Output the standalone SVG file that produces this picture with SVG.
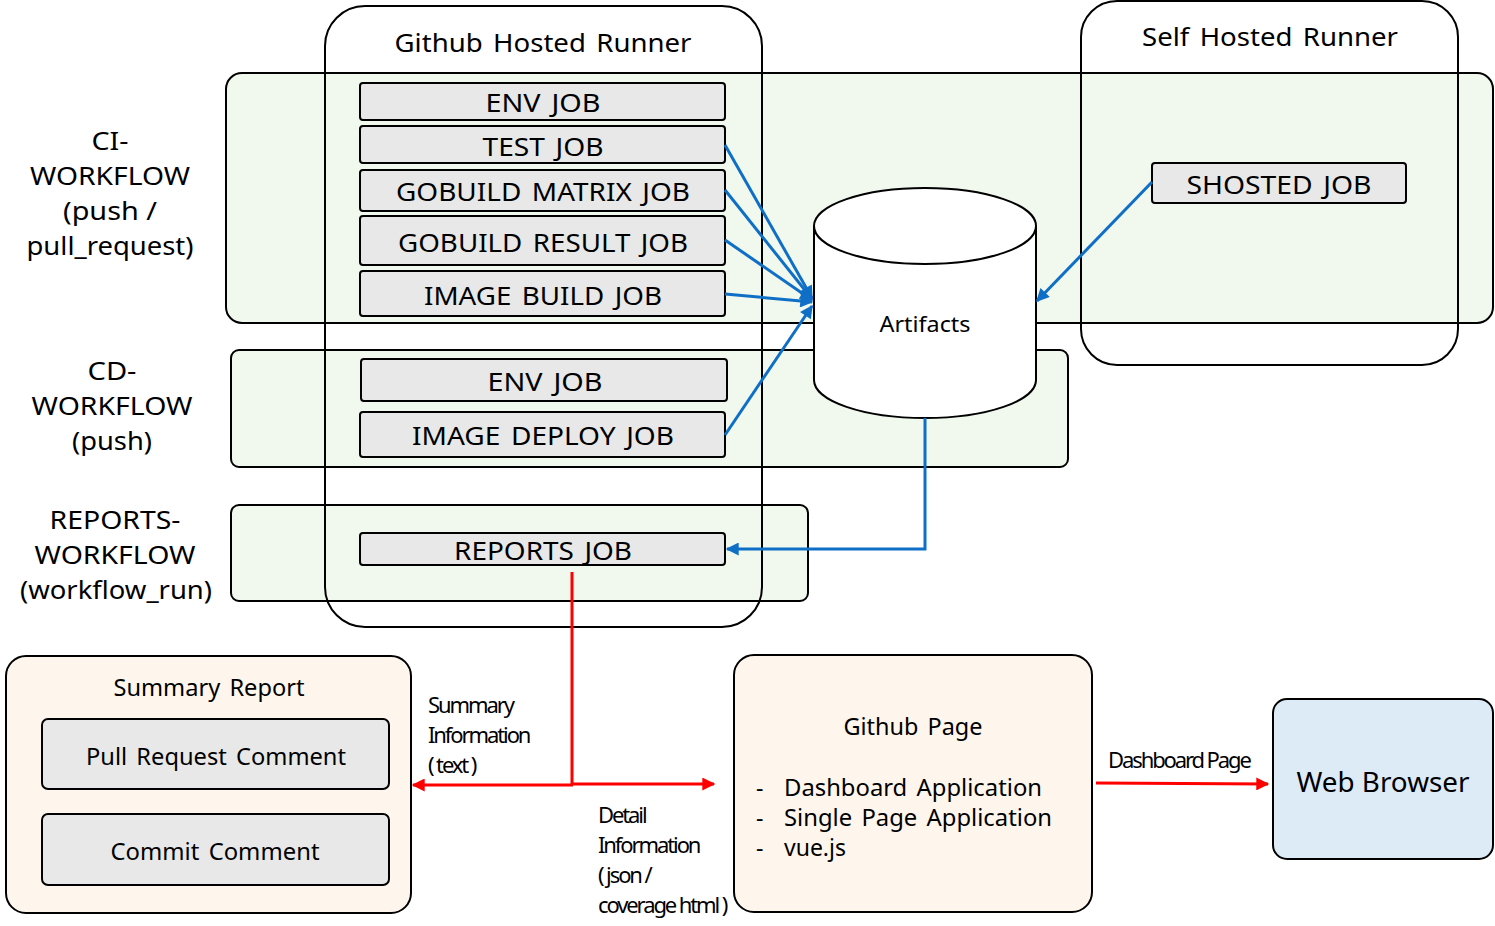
<svg xmlns="http://www.w3.org/2000/svg" width="1495" height="926" viewBox="0 0 1495 926">
<defs>
<style>
text{font-family:"Noto Sans","Open Sans","Liberation Sans",sans-serif;fill:#000;}
.panel{fill:#F1F8EE;stroke:#000;stroke-width:2;}
.runner{fill:none;stroke:#000;stroke-width:2;}
.job{fill:#E8E8E8;stroke:#000;stroke-width:2;}
.peach{fill:#FEF6EC;stroke:#000;stroke-width:2;}
.jt{font-size:26px;text-anchor:middle;dominant-baseline:central;word-spacing:3px;}
.wf{font-size:26px;text-anchor:middle;}
.mt{font-size:23px;text-anchor:middle;dominant-baseline:central;word-spacing:3px;}
.lt{font-size:23px;dominant-baseline:central;word-spacing:3px;}
.lbl{font-size:22px;letter-spacing:-2.1px;}
.blue{fill:none;stroke:#0F6FC6;stroke-width:3;}
.red{fill:none;stroke:#FF0000;stroke-width:3;}
</style>
<marker id="abl" viewBox="0 0 10 10" refX="9" refY="5" markerWidth="15" markerHeight="13" orient="auto" markerUnits="userSpaceOnUse">
<path d="M0,0 L10,5 L0,10 z" fill="#0F6FC6"/>
</marker>
<marker id="ar" viewBox="0 0 10 10" refX="9" refY="5" markerWidth="15" markerHeight="13" orient="auto" markerUnits="userSpaceOnUse">
<path d="M0,0 L10,5 L0,10 z" fill="#FF0000"/>
</marker>
</defs>
<rect width="1495" height="926" fill="#fff"/>

<g id="ci-workflow">
<rect class="panel" x="226" y="73" width="1267" height="250" rx="16"/>
<text class="wf" x="110" y="150" textLength="37" lengthAdjust="spacingAndGlyphs">CI-</text>
<text class="wf" x="110" y="185" textLength="160" lengthAdjust="spacingAndGlyphs">WORKFLOW</text>
<text class="wf" x="110" y="220" textLength="94" lengthAdjust="spacingAndGlyphs">(push /</text>
<text class="wf" x="110" y="255" textLength="167" lengthAdjust="spacingAndGlyphs">pull_request)</text>
</g>
<g id="cd-workflow">
<rect class="panel" x="231" y="350" width="837" height="117" rx="8"/>
<text class="wf" x="112" y="380" textLength="49" lengthAdjust="spacingAndGlyphs">CD-</text>
<text class="wf" x="112" y="415" textLength="161" lengthAdjust="spacingAndGlyphs">WORKFLOW</text>
<text class="wf" x="112" y="450" textLength="80" lengthAdjust="spacingAndGlyphs">(push)</text>
</g>
<g id="reports-workflow">
<rect class="panel" x="231" y="505" width="577" height="96" rx="8"/>
<text class="wf" x="115" y="529" textLength="131" lengthAdjust="spacingAndGlyphs">REPORTS-</text>
<text class="wf" x="115" y="564" textLength="161" lengthAdjust="spacingAndGlyphs">WORKFLOW</text>
<text class="wf" x="116" y="599" textLength="192" lengthAdjust="spacingAndGlyphs">(workflow_run)</text>
</g>

<g id="github-hosted-runner">
<rect class="runner" x="325" y="6" width="437" height="621" rx="40"/>
<text class="jt" x="543" y="42" textLength="297" lengthAdjust="spacingAndGlyphs">Github Hosted Runner</text>
</g>
<g id="self-hosted-runner">
<rect class="runner" x="1081" y="1" width="377" height="364" rx="36"/>
<text class="jt" x="1270" y="36" textLength="256" lengthAdjust="spacingAndGlyphs">Self Hosted Runner</text>
</g>

<g id="ci-env-job"><rect class="job" x="360" y="83" width="365" height="37" rx="3"/><text class="jt" x="543" y="102" textLength="115" lengthAdjust="spacingAndGlyphs">ENV JOB</text></g>
<g id="test-job"><rect class="job" x="360" y="126" width="365" height="37" rx="3"/><text class="jt" x="543" y="146" textLength="121" lengthAdjust="spacingAndGlyphs">TEST JOB</text></g>
<g id="gobuild-matrix-job"><rect class="job" x="360" y="170" width="365" height="41" rx="3"/><text class="jt" x="543" y="191" textLength="294" lengthAdjust="spacingAndGlyphs">GOBUILD MATRIX JOB</text></g>
<g id="gobuild-result-job"><rect class="job" x="360" y="216" width="365" height="49" rx="3"/><text class="jt" x="543" y="242" textLength="290" lengthAdjust="spacingAndGlyphs">GOBUILD RESULT JOB</text></g>
<g id="image-build-job"><rect class="job" x="360" y="271" width="365" height="45" rx="3"/><text class="jt" x="543" y="295" textLength="238" lengthAdjust="spacingAndGlyphs">IMAGE BUILD JOB</text></g>
<g id="cd-env-job"><rect class="job" x="361" y="359" width="366" height="42" rx="3"/><text class="jt" x="545" y="381" textLength="115" lengthAdjust="spacingAndGlyphs">ENV JOB</text></g>
<g id="image-deploy-job"><rect class="job" x="360" y="412" width="365" height="45" rx="3"/><text class="jt" x="543" y="435" textLength="262" lengthAdjust="spacingAndGlyphs">IMAGE DEPLOY JOB</text></g>
<g id="reports-job"><rect class="job" x="360" y="533" width="365" height="32" rx="3"/><text class="jt" x="543" y="550" textLength="178" lengthAdjust="spacingAndGlyphs">REPORTS JOB</text></g>
<g id="shosted-job"><rect class="job" x="1152" y="163" width="254" height="40" rx="3"/><text class="jt" x="1279" y="184" textLength="185" lengthAdjust="spacingAndGlyphs">SHOSTED JOB</text></g>

<g id="artifacts">
<path d="M814,226 L814,380 A111,38 0 0 0 1036,380 L1036,226 A111,38 0 0 0 814,226 Z" fill="#fff" stroke="#000" stroke-width="2"/>
<path d="M814,226 A111,38 0 0 0 1036,226" fill="none" stroke="#000" stroke-width="2"/>
<text x="925" y="323" textLength="91" lengthAdjust="spacingAndGlyphs" style="font-size:22px;text-anchor:middle;dominant-baseline:central;">Artifacts</text>
</g>

<g id="summary-report">
<rect class="peach" x="6" y="656" width="405" height="257" rx="20"/>
<text class="mt" x="209" y="687" textLength="191" lengthAdjust="spacingAndGlyphs">Summary Report</text>
<rect class="job" x="42" y="719" width="347" height="70" rx="6"/>
<text class="mt" x="216" y="756" textLength="260" lengthAdjust="spacingAndGlyphs">Pull Request Comment</text>
<rect class="job" x="42" y="814" width="347" height="71" rx="6"/>
<text class="mt" x="215" y="851" textLength="209" lengthAdjust="spacingAndGlyphs">Commit Comment</text>
</g>

<g id="github-page">
<rect class="peach" x="734" y="655" width="358" height="257" rx="20"/>
<text class="mt" x="913" y="726" textLength="139" lengthAdjust="spacingAndGlyphs">Github Page</text>
<text class="lt" x="756" y="787">-</text><text class="lt" x="784" y="787" textLength="258" lengthAdjust="spacingAndGlyphs">Dashboard Application</text>
<text class="lt" x="756" y="817">-</text><text class="lt" x="784" y="817" textLength="268" lengthAdjust="spacingAndGlyphs">Single Page Application</text>
<text class="lt" x="756" y="847">-</text><text class="lt" x="784" y="847" textLength="62" lengthAdjust="spacingAndGlyphs">vue.js</text>
</g>

<g id="web-browser">
<rect x="1273" y="699" width="220" height="160" rx="14" fill="#DDEBF7" stroke="#000" stroke-width="2"/>
<text x="1383" y="781" textLength="173" lengthAdjust="spacingAndGlyphs" style="font-size:28px;text-anchor:middle;dominant-baseline:central;">Web Browser</text>
</g>

<g id="connectors">
<line class="blue" x1="725" y1="145" x2="812" y2="298" marker-end="url(#abl)"/>
<line class="blue" x1="725" y1="190" x2="812" y2="299" marker-end="url(#abl)"/>
<line class="blue" x1="725" y1="240" x2="812" y2="300" marker-end="url(#abl)"/>
<line class="blue" x1="725" y1="294" x2="812" y2="302" marker-end="url(#abl)"/>
<line class="blue" x1="725" y1="435" x2="812" y2="306" marker-end="url(#abl)"/>
<line class="blue" x1="1152" y1="182" x2="1037" y2="301" marker-end="url(#abl)"/>
<polyline class="blue" points="925,418 925,549 727,549" marker-end="url(#abl)"/>
<line class="red" x1="572" y1="572" x2="572" y2="785"/>
<line class="red" x1="573" y1="785" x2="413" y2="785" marker-end="url(#ar)"/>
<line class="red" x1="571" y1="784" x2="714" y2="784" marker-end="url(#ar)"/>
<line class="red" x1="1096" y1="783" x2="1268" y2="784" marker-end="url(#ar)"/>
<g class="lbl">
<text x="428" y="713">Summary</text>
<text x="428" y="743">Information</text>
<text x="428" y="773">( text )</text>
<text x="598" y="823">Detail</text>
<text x="598" y="853">Information</text>
<text x="598" y="883">( json /</text>
<text x="598" y="913">coverage html )</text>
<text x="1108" y="768">Dashboard Page</text>
</g>
</g>
</svg>
